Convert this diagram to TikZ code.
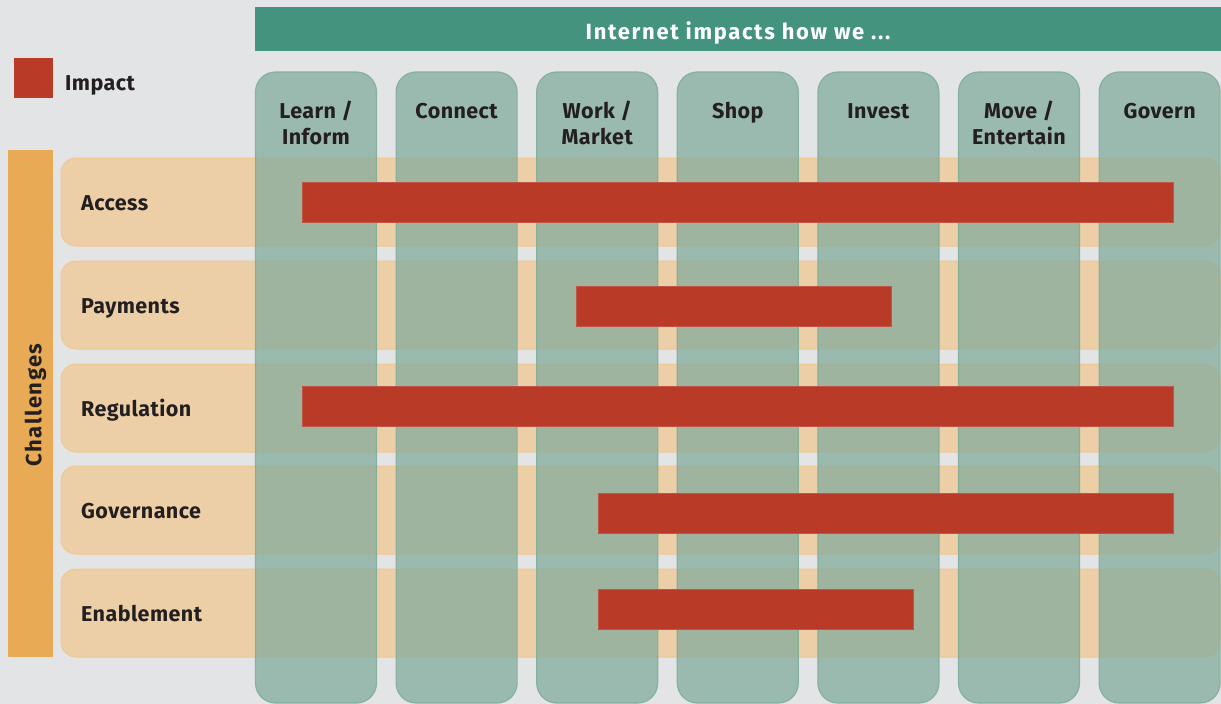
\documentclass[tikz,border=0pt]{standalone}
\usepackage{fontspec}
\setmainfont{Fira Sans}
\newfontfamily\lblfont[LetterSpace=2]{Fira Sans}
\newfontfamily\hdrfont[LetterSpace=7.5]{Fira Sans}
\newfontfamily\chalfont[LetterSpace=7]{Fira Sans}
\definecolor{bg}{HTML}{E3E4E6}
\definecolor{hdr}{HTML}{43937F}
\definecolor{imp}{HTML}{B93A26}
\definecolor{impline}{HTML}{C0564A}
\definecolor{chal}{HTML}{E8AA55}
\definecolor{rowfill}{HTML}{EDCFA7}
\definecolor{rowline}{HTML}{F2C88E}
\definecolor{colfill}{RGB}{132,172,157}
\definecolor{colline}{RGB}{128,174,154}
\definecolor{txt}{HTML}{231F20}
\tikzset{
  rowbox/.style={fill=rowfill,draw=rowline,line width=1pt,rounded corners=15pt},
  colbox/.style={fill=colfill,fill opacity=0.75,draw=colline,draw opacity=0.9,line width=1.2pt,rounded corners=20pt},
  impbar/.style={fill=imp,draw=impline,line width=0.8pt},
  rowlabel/.style={anchor=base west,text=txt,font=\lblfont\fontsize{21.5}{25.5}\selectfont\bfseries,inner sep=0pt},
  collabel/.style={anchor=base,text=txt,font=\lblfont\fontsize{21.5}{25.5}\selectfont\bfseries,inner sep=0pt},
}
\begin{document}
\begin{tikzpicture}[x=1pt,y=-1pt]
\fill[bg] (0,0) rectangle (1221,704);
\useasboundingbox (0,0) rectangle (1221,704);
% header
\node[fill=hdr,minimum width=966pt,minimum height=44pt,anchor=north west,inner sep=0pt] (header) at (255,7) {};
\node[anchor=base,text=white,font=\hdrfont\fontsize{22}{24}\selectfont\bfseries,inner sep=0pt] (headertxt) at (738,39) {Internet impacts how we ...};
% legend
\node[fill=imp,minimum width=39pt,minimum height=40pt,anchor=north west,inner sep=0pt] (legsq) at (14,58) {};
\node[rowlabel] (legtxt) at (65,90) {Impact};
% challenges bar
\node[fill=chal,minimum width=45pt,minimum height=507pt,anchor=north west,inner sep=0pt] (chalbar) at (8,150) {};
\node[rotate=90,anchor=base,text=txt,font=\chalfont\fontsize{22}{24}\selectfont\bfseries,inner sep=0pt] (chaltxt) at (41.5,405) {Challenges};
% rows
\foreach \n/\y/\lab in {access/158/Access, payments/261/Payments, regulation/364/Regulation, governance/466/Governance, enablement/569/Enablement}{
  \draw[rowbox] (61,\y) rectangle (1220,\y+88);
  \node[rowlabel] (lab-\n) at (81,\y+52.5) {\lab};
}
% columns
\foreach \i/\lab in {0/{Learn /\\Inform}, 1/Connect, 2/{Work /\\Market}, 3/Shop, 4/Invest, 5/{Move /\\Entertain}, 6/Govern}{
  \pgfmathsetmacro{\xl}{255.5+140.6*\i}
  \draw[colbox] (\xl,72) rectangle (\xl+121,703);
  \node[collabel] (col\i) at (\xl+60.5,118.5) {\begin{tabular}[t]{@{}c@{}}\lab\end{tabular}};
}
% impact bars
\node[impbar,minimum width=871pt,minimum height=40pt,anchor=north west,inner sep=0pt] (bar-access) at (302,182) {};
\node[impbar,minimum width=315pt,minimum height=40pt,anchor=north west,inner sep=0pt] (bar-payments) at (576,286) {};
\node[impbar,minimum width=871pt,minimum height=40pt,anchor=north west,inner sep=0pt] (bar-regulation) at (302,386) {};
\node[impbar,minimum width=575pt,minimum height=40pt,anchor=north west,inner sep=0pt] (bar-governance) at (598,493) {};
\node[impbar,minimum width=315pt,minimum height=40pt,anchor=north west,inner sep=0pt] (bar-enablement) at (598,589) {};
\end{tikzpicture}
\end{document}
